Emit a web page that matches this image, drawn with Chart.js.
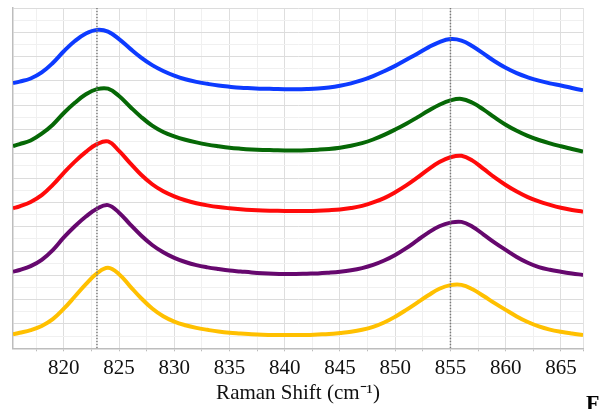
<!DOCTYPE html>
<html>
<head>
<meta charset="utf-8">
<script src="https://cdn.jsdelivr.net/npm/chart.js@4.4.0/dist/chart.umd.min.js"></script>
<style>
  html, body { margin: 0; padding: 0; background: #fff; }
  #wrap { width: 603px; height: 409px; position: relative; }
</style>
</head>
<body>
<div id="wrap"><canvas id="raman"></canvas></div>
<script>
// Raman shift sample positions (cm-1): left edge, then every 1 cm-1 up to 867
const ramanShift = [815.4, 816, 817, 818, 819, 820, 821, 822, 823, 824, 825,
                    826, 827, 828, 829, 830, 831, 832, 833, 834, 835,
                    836, 837, 838, 839, 840, 841, 842, 843, 844, 845,
                    846, 847, 848, 849, 850, 851, 852, 853, 854, 855,
                    856, 857, 858, 859, 860, 861, 862, 863, 864, 865, 866, 867];

// Stacked spectra, top to bottom (offset intensity, arbitrary units)
const blueSpectrum = [10.91, 10.97, 11.10, 11.35, 11.74, 12.22, 12.64, 12.95, 13.10, 13.03, 12.72,
                      12.33, 11.96, 11.65, 11.41, 11.22, 11.07, 10.96, 10.88, 10.81, 10.76,
                      10.72, 10.70, 10.68, 10.67, 10.66, 10.66, 10.67, 10.69, 10.73, 10.80,
                      10.90, 11.03, 11.20, 11.40, 11.62, 11.87, 12.12, 12.38, 12.60, 12.72,
                      12.66, 12.43, 12.12, 11.81, 11.54, 11.32, 11.15, 11.01, 10.90, 10.81, 10.71, 10.61];
const greenSpectrum = [8.32, 8.40, 8.55, 8.83, 9.20, 9.68, 10.10, 10.45, 10.66, 10.68, 10.38,
                       9.94, 9.52, 9.16, 8.90, 8.72, 8.58, 8.47, 8.38, 8.31, 8.25,
                       8.21, 8.18, 8.16, 8.15, 8.14, 8.14, 8.15, 8.17, 8.20, 8.25,
                       8.33, 8.44, 8.59, 8.78, 9.00, 9.24, 9.50, 9.77, 10.02, 10.20,
                       10.26, 10.10, 9.82, 9.50, 9.20, 8.95, 8.74, 8.57, 8.43, 8.31, 8.20, 8.09];
const redSpectrum = [5.76, 5.84, 6.02, 6.30, 6.72, 7.22, 7.68, 8.08, 8.40, 8.51, 8.12,
                     7.62, 7.14, 6.75, 6.46, 6.25, 6.09, 5.97, 5.88, 5.81, 5.76,
                     5.72, 5.69, 5.67, 5.66, 5.65, 5.65, 5.65, 5.66, 5.68, 5.71,
                     5.77, 5.86, 6.00, 6.18, 6.42, 6.70, 7.02, 7.36, 7.66, 7.86,
                     7.92, 7.72, 7.38, 7.03, 6.72, 6.45, 6.22, 6.04, 5.90, 5.78, 5.69, 5.62];
const purpleSpectrum = [3.15, 3.22, 3.38, 3.64, 4.04, 4.56, 5.02, 5.42, 5.74, 5.89, 5.58,
                        5.10, 4.64, 4.25, 3.95, 3.72, 3.55, 3.42, 3.33, 3.26, 3.20,
                        3.16, 3.12, 3.09, 3.07, 3.06, 3.06, 3.07, 3.08, 3.11, 3.15,
                        3.21, 3.30, 3.43, 3.61, 3.84, 4.12, 4.44, 4.76, 5.02, 5.17,
                        5.20, 5.00, 4.68, 4.35, 4.05, 3.76, 3.52, 3.34, 3.23, 3.15, 3.08, 3.02];
const yellowSpectrum = [0.58, 0.64, 0.75, 0.92, 1.20, 1.63, 2.13, 2.64, 3.08, 3.31, 3.05,
                        2.55, 2.06, 1.64, 1.32, 1.10, 0.95, 0.84, 0.76, 0.69, 0.64,
                        0.61, 0.58, 0.56, 0.55, 0.55, 0.55, 0.55, 0.57, 0.59, 0.63,
                        0.68, 0.76, 0.88, 1.06, 1.30, 1.58, 1.88, 2.18, 2.45, 2.60,
                        2.61, 2.43, 2.15, 1.86, 1.58, 1.31, 1.08, 0.90, 0.77, 0.68, 0.61, 0.55];

// Dotted reference lines, x grid positions and labelled x ticks
const referenceShifts = [823, 855];
const xGridValues = [817.5, 820, 822.5, 825, 827.5, 830, 832.5, 835, 837.5, 840, 842.5, 845,
                     847.5, 850, 852.5, 855, 857.5, 860, 862.5, 865, 867];
const xTickLabels = [820, 825, 830, 835, 840, 845, 850, 855, 860, 865];

const X_MIN = 815.4, X_MAX = 867, Y_MIN = 0, Y_MAX = 14;

function toPoints(values) {
    return values.map((v, i) => ({ x: ramanShift[i], y: v }));
}

function spectrum(values, color) {
    return {
        data: toPoints(values),
        borderColor: color,
        borderWidth: 4,
        pointRadius: 0,
        tension: 0.4,
        fill: false
    };
}

const refDatasets = referenceShifts.map(x => ({
    data: [{ x: x, y: Y_MIN }, { x: x, y: Y_MAX }],
    borderColor: '#7a7a7a',
    borderWidth: 1.5,
    borderDash: [1.5, 1.5],
    pointRadius: 0,
    tension: 0,
    fill: false
}));

// Bold panel letter in the lower right corner
const panelLetter = {
    id: 'panelLetter',
    afterDraw(chart) {
        const ctx = chart.ctx;
        ctx.save();
        ctx.font = 'bold 22px "Liberation Serif", "Times New Roman", serif';
        ctx.fillStyle = '#000';
        ctx.textBaseline = 'alphabetic';
        ctx.fillText('F', 586, 410);
        ctx.restore();
    }
};

const serif = '"Liberation Serif", "Times New Roman", serif';

new Chart(document.getElementById('raman'), {
    type: 'line',
    data: {
        datasets: [
            ...refDatasets,
            spectrum(blueSpectrum, '#0d3bff'),
            spectrum(greenSpectrum, '#066806'),
            spectrum(redSpectrum, '#ff0a0a'),
            spectrum(purpleSpectrum, '#66086e'),
            spectrum(yellowSpectrum, '#ffc000')
        ]
    },
    options: {
        responsive: true,
        maintainAspectRatio: false,
        animation: false,
        layout: { padding: { left: 0, right: 20, top: 8, bottom: 0 } },
        plugins: {
            legend: { display: false },
            tooltip: { enabled: false }
        },
        scales: {
            x: {
                type: 'linear',
                min: X_MIN,
                max: X_MAX,
                afterBuildTicks: scale => {
                    scale.ticks = xGridValues.map(v => ({ value: v }));
                },
                afterFit: scale => { scale.height = 60.7; },
                border: { color: '#bdbdbd', width: 1.5 },
                grid: {
                    color: ctx => {
                        const v = ctx.tick ? ctx.tick.value : 0;
                        if (Math.abs(v % 5) < 1e-6) return '#dedede';
                        if (Math.abs(v % 2.5) < 1e-6) return '#f0f0f0';
                        return '#e2e2e2';
                    },
                    tickLength: 3,
                    tickColor: '#bdbdbd'
                },
                ticks: {
                    autoSkip: false,
                    maxRotation: 0,
                    padding: 5,
                    color: '#111',
                    font: { family: serif, size: 21 },
                    callback: v => xTickLabels.includes(v) ? String(v) : ''
                },
                title: {
                    display: true,
                    text: 'Raman Shift (cm\u207B\u00B9)',
                    color: '#111',
                    font: { family: serif, size: 21 },
                    padding: { top: 0, bottom: 3 }
                }
            },
            y: {
                min: Y_MIN,
                max: Y_MAX,
                afterFit: scale => { scale.width = 13; },
                border: { color: '#bdbdbd', width: 1.5 },
                grid: {
                    color: ctx => {
                        const v = ctx.tick ? ctx.tick.value : 0;
                        return Math.abs(v % 1) < 1e-6 ? '#dcdcdc' : '#f0f0f0';
                    },
                    drawTicks: false
                },
                ticks: { display: false, stepSize: 0.5 }
            }
        }
    },
    plugins: [panelLetter]
});
</script>
</body>
</html>
